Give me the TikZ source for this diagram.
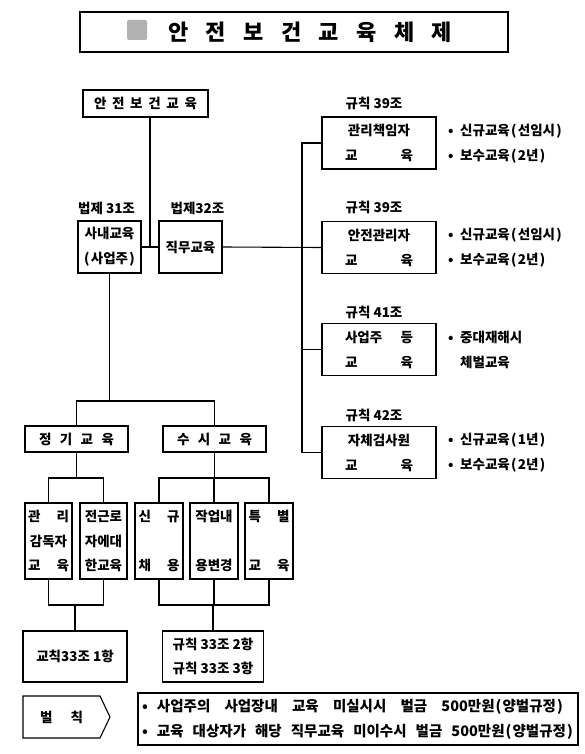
\documentclass[tikz,border=0pt]{standalone}
\usepackage{fontspec}
\setmainfont{Noto Sans CJK KR}
\newcommand\spr[2]{\makebox[#1][s]{#2}}
\newcommand\bul{\makebox[12pt][l]{•}}
\newcommand\plo{\makebox[8pt]{(}}
\newcommand\plc{\makebox[8pt]{)}}
\begin{document}
\begin{tikzpicture}[x=1pt,y=-1pt,
  box/.style={draw,line width=1.1pt,inner sep=0pt,font=\bfseries\fontsize{13.5}{25}\selectfont,align=center},
  lbl/.style={inner sep=0pt,font=\bfseries\fontsize{13.5}{15}\selectfont},
  btxt/.style={inner sep=0pt,anchor=west,font=\bfseries\fontsize{13.5}{15}\selectfont},
  wire/.style={line width=1.1pt}]
\useasboundingbox (0,0) rectangle (584,754);
% title
\node[draw,line width=2.5pt,minimum width=428pt,minimum height=40pt,inner sep=0pt] (title) at (294,32) {};
\node[fill=black!30,minimum size=20pt,inner sep=0pt,rounded corners=2pt] (sq) at (137,30) {};
\node[inner sep=0pt,font=\bfseries\fontsize{22}{24}\selectfont] (ttext) at (310,32) {\spr{284pt}{안\hfill 전\hfill 보\hfill 건\hfill 교\hfill 육\hfill 체\hfill 제}};
% top
\node[box,minimum width=125pt,minimum height=27pt] (top) at (145.5,103.5) {\spr{103pt}{안\hfill 전\hfill 보\hfill 건\hfill 교\hfill 육}};
\node[box,minimum width=63pt,minimum height=52pt] (sanae) at (109.5,247) {사내교육\\\plo 사업주\plc};
\node[box,minimum width=63pt,minimum height=52pt] (jikmu) at (190.5,247) {직무교육};
\node[lbl] (l31) at (106.5,208) {법제 31조};
\node[lbl] (l32) at (197.5,208) {법제32조};
\coordinate (j1) at (150,247);
\draw[wire] (top.south -| j1) -- (j1);
\draw[wire] (sanae.east) -- (jikmu.west);
% right column
\node[box,minimum width=114pt,minimum height=52pt] (r1) at (379,143) {관리책임자\\\spr{68pt}{교\hfill 육}};
\node[box,minimum width=114pt,minimum height=52pt] (r2) at (379,247.5) {안전관리자\\\spr{68pt}{교\hfill 육}};
\node[box,minimum width=114pt,minimum height=52pt] (r3) at (379,349.5) {\spr{68pt}{사업주\hfill 등}\\\spr{68pt}{교\hfill 육}};
\node[box,minimum width=114pt,minimum height=52pt] (r4) at (379,452.5) {자체검사원\\\spr{68pt}{교\hfill 육}};
\node[lbl] (g1) at (374,103) {규칙 39조};
\node[lbl] (g2) at (374,207) {규칙 39조};
\node[lbl] (g3) at (374,312) {규칙 41조};
\node[lbl] (g4) at (374,415) {규칙 42조};
\coordinate (t1) at (302,143);
\coordinate (t4) at (302,452.5);
\draw[wire] (r1.west) -- (t1) -- (t4) -- (r4.west);
\draw[wire] (jikmu.east) -- (r2.west);
\draw[wire] (t1 |- r3) -- (r3.west);
\node[btxt] (b1a) at (448,131) {\bul 신규교육\plo 선임시\plc};
\node[btxt] (b1b) at (448,156) {\bul 보수교육\plo 2년\plc};
\node[btxt] (b2a) at (448,235) {\bul 신규교육\plo 선임시\plc};
\node[btxt] (b2b) at (448,260) {\bul 보수교육\plo 2년\plc};
\node[btxt] (b3a) at (448,337) {\bul 중대재해시};
\node[btxt] (b3b) at (448,362) {\hspace{12pt}체벌교육};
\node[btxt] (b4a) at (448,440) {\bul 신규교육\plo 1년\plc};
\node[btxt] (b4b) at (448,465) {\bul 보수교육\plo 2년\plc};
% lower left
\coordinate (h1) at (109.5,401);
\draw[wire] (sanae.south) -- (h1);
\node[box,minimum width=103pt,minimum height=26pt] (jeong) at (76.5,439) {\spr{75pt}{정\hfill 기\hfill 교\hfill 육}};
\node[box,minimum width=103pt,minimum height=26pt] (susi) at (214.5,439) {\spr{75pt}{수\hfill 시\hfill 교\hfill 육}};
\draw[wire] (jeong.north) -- (jeong.north |- h1) -- (susi.north |- h1) -- (susi.north);
\node[box,minimum width=47pt,minimum height=76pt,font=\bfseries\fontsize{13.5}{24.5}\selectfont] (ka) at (48.5,541) {\spr{41pt}{관\hfill 리}\\감독자\\\spr{41pt}{교\hfill 육}};
\node[box,minimum width=47pt,minimum height=76pt,font=\bfseries\fontsize{13.5}{24.5}\selectfont] (kb) at (103.5,541) {전근로\\자에대\\한교육};
\node[box,minimum width=48pt,minimum height=76pt,font=\bfseries\fontsize{13.5}{24.5}\selectfont] (kc) at (159,541) {\spr{41pt}{신\hfill 규}\\\strut\\\spr{41pt}{채\hfill 용}};
\node[box,minimum width=48pt,minimum height=76pt,font=\bfseries\fontsize{13.5}{24.5}\selectfont] (kd) at (214,541) {작업내\\\strut\\용변경};
\node[box,minimum width=48pt,minimum height=76pt,font=\bfseries\fontsize{13.5}{24.5}\selectfont] (ke) at (269,541) {\spr{41pt}{특\hfill 별}\\\strut\\\spr{41pt}{교\hfill 육}};
\coordinate (h2) at (0,478);
\draw[wire] (jeong.south) -- (jeong.south |- h2);
\draw[wire] (ka.north) -- (ka.north |- h2) -- (kb.north |- h2) -- (kb.north);
\draw[wire] (susi.south) -- (susi.south |- h2);
\draw[wire] (kc.north) -- (kc.north |- h2) -- (ke.north |- h2) -- (ke.north);
\draw[wire] (kd.north) -- (kd.north |- h2);
% bottom
\coordinate (h3) at (0,605);
\node[box,minimum width=104pt,minimum height=51pt] (gy1) at (75,656.5) {교칙33조 1항};
\node[box,minimum width=101pt,minimum height=51pt,font=\bfseries\fontsize{13.5}{24}\selectfont] (gy2) at (213,656.5) {규칙 33조 2항\\규칙 33조 3항};
\draw[wire] (ka.south) -- (ka.south |- h3) -- (kb.south |- h3) -- (kb.south);
\draw[wire] (gy1.north) -- (gy1.north |- h3);
\draw[wire] (kc.south) -- (kc.south |- h3) -- (ke.south |- h3) -- (ke.south);
\draw[wire] (kd.south) -- (kd.south |- h3);
\draw[wire] (gy2.north) -- (gy2.north |- h3);
% penalty
\draw[wire] (23,696) -- (100,696) -- (110,717) -- (100,738) -- (23,738) -- cycle;
\node[lbl] (beol) at (61.5,717) {\spr{43pt}{벌\hfill 칙}};
\node[box,minimum width=440pt,minimum height=52pt,align=left,font=\bfseries\fontsize{14.5}{25}\selectfont] (pen) at (358,719) {\makebox[432pt][l]{\makebox[15pt][l]{•}\spr{407pt}{사업주의 사업장내 교육 미실시시 벌금 500만원\plo 양벌규정\plc}}\\\makebox[432pt][l]{\makebox[15pt][l]{•}\spr{417pt}{교육 대상자가 해당 직무교육 미이수시 벌금 500만원\plo 양벌규정\plc}}};
\end{tikzpicture}
\end{document}
